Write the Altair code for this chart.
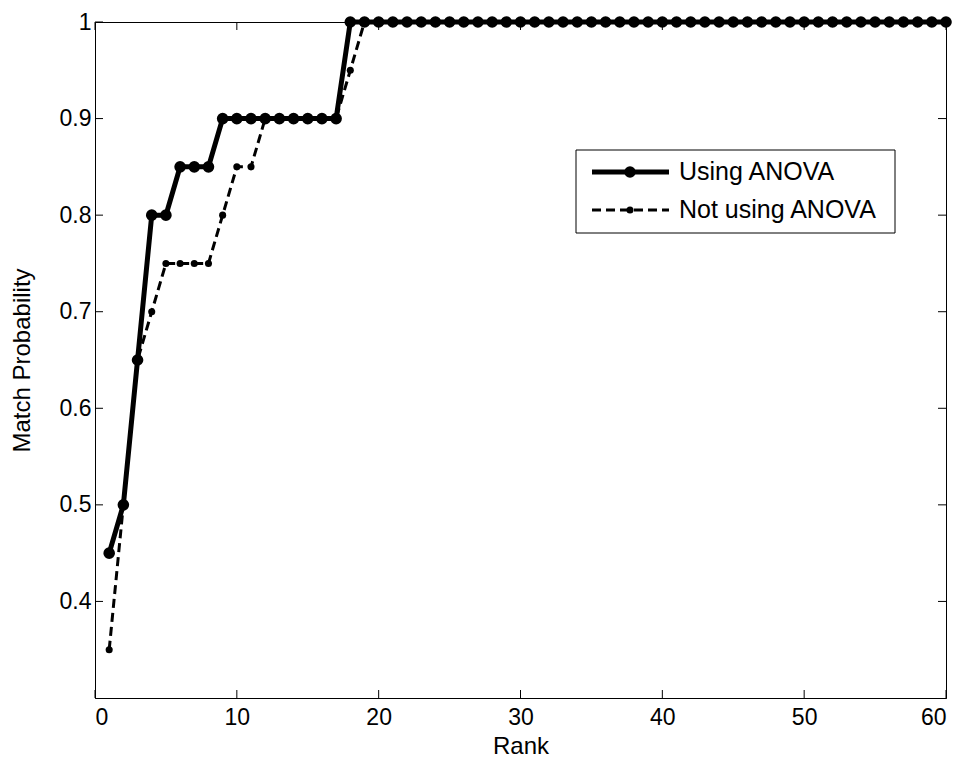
import altair as alt
import pandas as pd

# ---- data ----
ranks = list(range(1, 61))
using_anova = ([0.45, 0.50, 0.65, 0.80, 0.80, 0.85, 0.85, 0.85, 0.90]
               + [0.90] * 8 + [1.0] * 43)
not_using_anova = ([0.35, 0.50, 0.65, 0.70, 0.75, 0.75, 0.75, 0.75, 0.80, 0.85, 0.85, 0.90]
                   + [0.90] * 5 + [0.95] + [1.0] * 42)
series_names = ["Using ANOVA", "Not using ANOVA"]
x_ticks = [0, 10, 20, 30, 40, 50, 60]
y_ticks = [0.4, 0.5, 0.6, 0.7, 0.8, 0.9, 1.0]

W, H = 851, 676
FONT = "Liberation Sans"

df_solid = pd.DataFrame({"rank": ranks, "prob": using_anova})
df_dash = pd.DataFrame({"rank": ranks, "prob": not_using_anova})

xscale = alt.Scale(domain=[0, 60], nice=False, zero=False)
yscale = alt.Scale(domain=[0.3, 1.0], nice=False, zero=False)

x_axis = alt.Axis(values=x_ticks, tickSize=0, labelFontSize=23, labelPadding=8,
                  labelFont=FONT, labelColor="black", domainColor="black", grid=False,
                  title="Rank", titleFont=FONT, titleFontSize=24, titleFontWeight="normal",
                  titleColor="black", titleY=48, titleX=W / 2, titleBaseline="middle",
                  titleAlign="center")
y_axis = alt.Axis(values=y_ticks, tickSize=0, labelFontSize=23, labelPadding=4,
                  labelFont=FONT, labelColor="black", domainColor="black", grid=False,
                  format="~g",
                  title="Match Probability", titleFont=FONT, titleFontSize=24,
                  titleFontWeight="normal", titleColor="black", titleAngle=270,
                  titleX=-73, titleY=H / 2, titleBaseline="middle", titleAlign="center")

SOLID_W, DASH_W = 5, 3
DASH = [9, 5]
SOLID_SIZE, DASH_SIZE = 135, 50

line_dash = alt.Chart(df_dash).mark_line(color="black", strokeWidth=DASH_W, strokeDash=DASH).encode(
    x=alt.X("rank:Q", scale=xscale, axis=x_axis),
    y=alt.Y("prob:Q", scale=yscale, axis=y_axis),
)
pts_dash = alt.Chart(df_dash).mark_point(filled=True, color="black", opacity=1, size=DASH_SIZE).encode(
    x=alt.X("rank:Q", scale=xscale),
    y=alt.Y("prob:Q", scale=yscale),
)
line_solid = alt.Chart(df_solid).mark_line(color="black", strokeWidth=SOLID_W).encode(
    x=alt.X("rank:Q", scale=xscale),
    y=alt.Y("prob:Q", scale=yscale),
)
pts_solid = alt.Chart(df_solid).mark_point(filled=True, color="black", opacity=1, size=SOLID_SIZE).encode(
    x=alt.X("rank:Q", scale=xscale),
    y=alt.Y("prob:Q", scale=yscale),
)

# inward tick marks (MATLAB style) on all four sides
xt = pd.DataFrame({"rank": x_ticks})
yt = pd.DataFrame({"prob": y_ticks})
tick_len = 8
ticks_bottom = alt.Chart(xt).mark_rule(color="black", strokeWidth=1).encode(
    x=alt.X("rank:Q", scale=xscale), y=alt.value(H - tick_len), y2=alt.value(H))
ticks_top = alt.Chart(xt).mark_rule(color="black", strokeWidth=1).encode(
    x=alt.X("rank:Q", scale=xscale), y=alt.value(0), y2=alt.value(tick_len))
ticks_left = alt.Chart(yt).mark_rule(color="black", strokeWidth=1).encode(
    y=alt.Y("prob:Q", scale=yscale), x=alt.value(0), x2=alt.value(tick_len))
ticks_right = alt.Chart(yt).mark_rule(color="black", strokeWidth=1).encode(
    y=alt.Y("prob:Q", scale=yscale), x=alt.value(W - tick_len), x2=alt.value(W))

# ---- legend (MATLAB style box, line + marker samples) ----
LX0, LX1, LY0, LY1 = 481, 800, 128, 211       # legend box, plot-area pixels
SYM_X0, SYM_X1, SYM_XC, TXT_X = 497, 574, 535, 584
ROW_Y = [150, 188]

one = alt.Data(values=[{"k": 0}])
leg_box = alt.Chart(one).mark_rect(fill="white", stroke="black", strokeWidth=1).encode(
    x=alt.value(LX0), x2=alt.value(LX1), y=alt.value(LY0), y2=alt.value(LY1))

leg_layers = [leg_box]
styles = [(SOLID_W, [1, 0], SOLID_SIZE), (DASH_W, DASH, DASH_SIZE)]
for name, (sw, dash, msize), ry in zip(series_names, styles, ROW_Y):
    d = alt.Data(values=[{"label": name}])
    leg_layers.append(alt.Chart(d).mark_rule(color="black", strokeWidth=sw, strokeDash=dash).encode(
        x=alt.value(SYM_X0), x2=alt.value(SYM_X1), y=alt.value(ry)))
    leg_layers.append(alt.Chart(d).mark_point(filled=True, color="black", opacity=1, size=msize).encode(
        x=alt.value(SYM_XC), y=alt.value(ry)))
    leg_layers.append(alt.Chart(d).mark_text(
        font=FONT, fontSize=25, color="black", align="left", baseline="middle").encode(
        x=alt.value(TXT_X), y=alt.value(ry), text="label:N"))

chart = alt.layer(
    line_dash, pts_dash, line_solid, pts_solid,
    ticks_bottom, ticks_top, ticks_left, ticks_right, *leg_layers,
).properties(
    width=W, height=H,
    autosize=alt.AutoSizeParams(type="none"),
    padding={"left": 87, "top": 14, "right": 6, "bottom": 62},
    background="white",
).configure_view(stroke="black", strokeWidth=1)

chart.save("out.html", embed_options={"renderer": "svg", "actions": False})
